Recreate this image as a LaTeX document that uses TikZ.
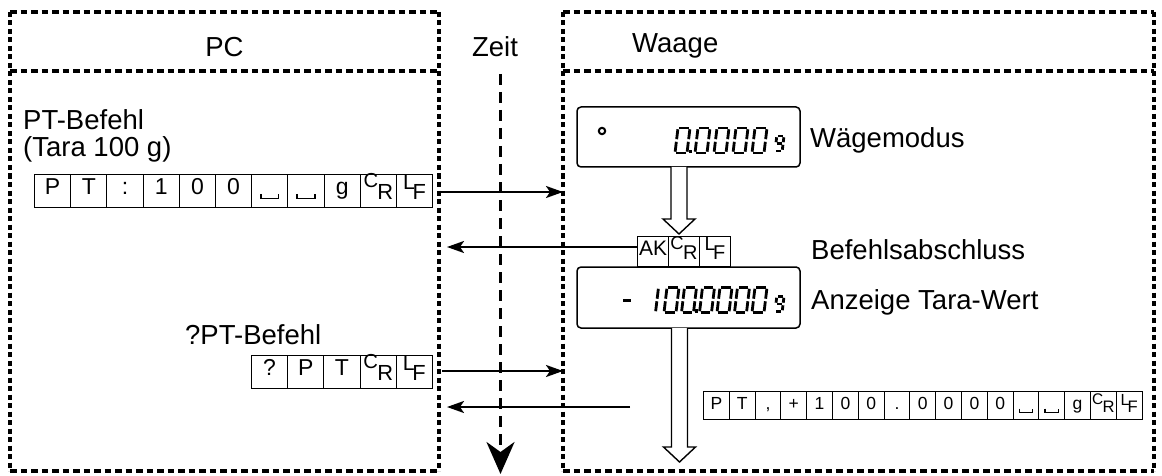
\documentclass[tikz,border=0pt]{standalone}
\usepackage{fontspec}
\setmainfont{Liberation Sans}
\usepackage{graphicx}
\usetikzlibrary{arrows.meta,calc}
\newcommand\crsym{\raisebox{0.28em}{\scalebox{0.88}{C}}\kern-0.03em\raisebox{-0.22em}{\scalebox{0.95}{R}}}
\newcommand\lfsym{\raisebox{0.2em}{\scalebox{0.92}{L}}\kern-0.1em\raisebox{-0.22em}{\scalebox{0.95}{F}}}
\newcommand\spsym{\tikz[baseline=0pt]\draw[line width=0.06em] (0,0.02em) -- (0,-0.17em) -- (0.78em,-0.17em) -- (0.78em,0.02em);}
\newcommand\segA{\draw[seg] (3,-25) -- (15,-25);}
\newcommand\segB{\draw[seg] (15,-25) -- (13.5,-12.5);}
\newcommand\segC{\draw[seg] (13.5,-12.5) -- (12,0);}
\newcommand\segD{\draw[seg] (0,0) -- (12,0);}
\newcommand\segE{\draw[seg] (0,0) -- (1.5,-12.5);}
\newcommand\segF{\draw[seg] (1.5,-12.5) -- (3,-25);}
\newcommand\segG{\draw[seg] (1.5,-12.5) -- (13.5,-12.5);}
\newcommand\dzero[2]{\begin{scope}[shift={(#1,#2)}]\segA\segB\segC\segD\segE\segF\end{scope}}
\newcommand\dunit[2]{\begin{scope}[shift={(#1,#2)}]\segB\segC\end{scope}}
\newcommand\dgram[2]{\begin{scope}[shift={(#1,#2)},scale=0.6]\segA\segB\segC\segD\segF\segG\end{scope}}
\begin{document}
\begin{tikzpicture}[x=1pt,y=-1pt,
  laneh/.style={line width=3.1pt, dash pattern=on 6.5pt off 4pt},
  lanev/.style={line width=3.1pt, dash pattern=on 5pt off 3.5pt},
  lbl/.style={inner sep=0pt, font=\fontsize{27.5}{33}\selectfont},
  cellA/.style={draw, line width=1pt, anchor=north west, minimum width=36.2pt, minimum height=32.5pt, inner sep=0pt, text height=0.716em, text depth=0pt, font=\fontsize{23}{23}\selectfont},
  cellB/.style={draw, line width=1pt, anchor=north west, minimum width=31pt, minimum height=30pt, inner sep=0pt, text height=0.716em, text depth=0pt, font=\fontsize{21}{21}\selectfont},
  cellC/.style={draw, line width=1pt, anchor=north west, minimum width=25.8pt, minimum height=28pt, inner sep=0pt, text height=0.716em, text depth=0pt, font=\fontsize{17.5}{17.5}\selectfont},
  disp/.style={draw, line width=1.5pt, rounded corners=4pt, minimum width=223pt, inner sep=0pt},
  arr/.style={line width=2.2pt, -{Stealth[length=17pt,width=12pt,inset=4pt]}},
  hol/.style={draw, line width=1.4pt, fill=white, line join=miter},
  zeit/.style={line width=3.2pt, dash pattern=on 11pt off 7pt, -{Stealth[length=32pt,width=28pt,inset=10pt]}},
  seg/.style={line width=2.8pt, shorten <=1.3pt, shorten >=1.3pt}]
\useasboundingbox (0,0) rectangle (1162,476);

% lanes
\draw[laneh] (10,12) -- (439,12) (10,71) -- (439,71) (10,471) -- (439,471);
\draw[lanev] (10,12) -- (10,471) (439,12) -- (439,471);
\draw[laneh] (563,12) -- (1154,12) (563,71) -- (1154,71) (563,471) -- (1154,471);
\draw[lanev] (563,12) -- (563,471) (1154,12) -- (1154,471);

\node[lbl, anchor=base] (pc) at (224.5,57) {PC};
\node[lbl, anchor=base] (zeitlbl) at (495,57) {Zeit};
\node[lbl, anchor=base west] (waage) at (632,53) {Waage};

% time axis
\coordinate (zt) at (500.5,74);
\coordinate (zb) at (500.5,474);
\draw[zeit] (zt) -- (zb);

% PC side texts
\node[lbl, anchor=base west] (ptb) at (23,130) {PT-Befehl};
\node[lbl, anchor=base west] (tara) at (23,157) {(Tara 100 g)};
\node[lbl, anchor=base west] (qpt) at (185,344) {?PT-Befehl};

% byte rows
\foreach \c [count=\i] in {P,T,:,1,0,0,\spsym,\spsym,g,\crsym,\lfsym}
  \node[cellA] (ra-\i) at ({34+(\i-1)*36.2},174) {\c};
\foreach \c [count=\i] in {?,P,T,\crsym,\lfsym}
  \node[cellA] (rb-\i) at ({251+(\i-1)*36.2},355) {\c};
\foreach \c [count=\i] in {AK,\crsym,\lfsym}
  \node[cellB] (ak-\i) at ({637+(\i-1)*31},236) {\c};
\foreach \c [count=\i] in {P,T,{,},+,1,0,0,.,0,0,0,0,\spsym,\spsym,g,\crsym,\lfsym}
  \node[cellC] (rc-\i) at ({703+(\i-1)*25.8},391) {\c};

% displays
\node[disp, minimum height=60pt] (d1) at (688.5,137) {};
\node[disp, minimum height=61pt] (d2) at (688.5,297.5) {};
\draw[line width=2pt] (602,131) circle (3.2);
\dzero{675}{153}
\fill (689,149.8) rectangle (692.2,153);
\dzero{695}{153}
\dzero{714}{153}
\dzero{733}{153}
\dzero{752}{153}
\dgram{775}{151}

\draw[line width=3pt] (623,300) -- (631,300);
\dunit{643.5}{312.5}
\dzero{664}{312.5}
\dzero{681.5}{312.5}
\fill (695,309.3) rectangle (698.2,312.5);
\dzero{699.5}{312.5}
\dzero{717}{312.5}
\dzero{734.5}{312.5}
\dzero{752}{312.5}
\dgram{775}{311.5}

\node[lbl, anchor=base west] (wm) at (810,148) {Wägemodus};
\node[lbl, anchor=base west] (ba) at (811,259) {Befehlsabschluss};
\node[lbl, anchor=base west] (az) at (811,309) {Anzeige Tara-Wert};

% hollow arrows
\coordinate (h1s) at (679,167);
\coordinate (h1t) at (679,234);
\draw[hol] ($(h1s)+(-8,0)$) -- ($(h1t)+(-8,-15)$) -- ($(h1t)+(-16,-15)$) -- (h1t) -- ($(h1t)+(16,-15)$) -- ($(h1t)+(8,-15)$) -- ($(h1s)+(8,0)$);
\coordinate (h2s) at (679.5,328);
\coordinate (h2t) at (679.5,462);
\draw[hol] ($(h2s)+(-8,0)$) -- ($(h2t)+(-8,-15)$) -- ($(h2t)+(-16,-15)$) -- (h2t) -- ($(h2t)+(16,-15)$) -- ($(h2t)+(8,-15)$) -- ($(h2s)+(8,0)$);

% message arrows
\coordinate (m1s) at (440,192);
\coordinate (m1e) at (563,192);
\draw[arr] (m1s) -- (m1e);
\coordinate (m2e) at (447,247);
\draw[arr] (ak-1.west |- m2e) -- (m2e);
\coordinate (m3s) at (442,371);
\coordinate (m3e) at (563,371);
\draw[arr] (m3s) -- (m3e);
\coordinate (m4s) at (630,407);
\coordinate (m4e) at (447,407);
\draw[arr] (m4s) -- (m4e);
\end{tikzpicture}
\end{document}
